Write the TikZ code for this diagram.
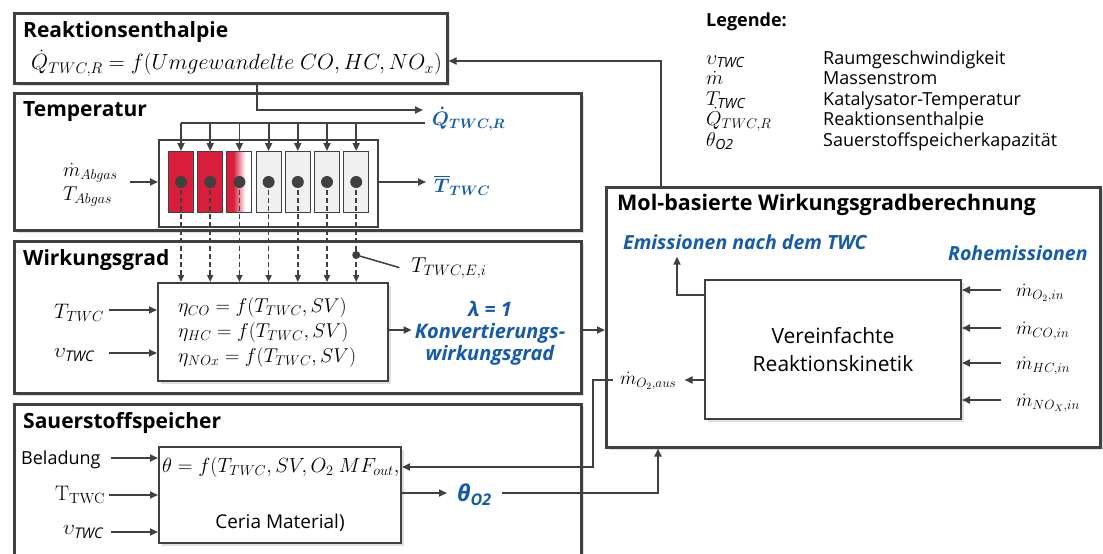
\RequirePackage{fix-cm}
\documentclass[tikz,border=0pt]{standalone}
\usepackage{amsmath}
\usepackage[no-math]{fontspec}
\setmainfont{Open Sans}
\usepackage{tikz}
\usetikzlibrary{arrows.meta, positioning, shadows, calc}

\definecolor{linegray}{RGB}{64,64,64}
\definecolor{kblue}{RGB}{22,90,170}
\definecolor{kred}{RGB}{217,30,60}
\definecolor{cellgray}{RGB}{240,240,240}
\pgfdeclarehorizontalshading{redfade}{100bp}{color(0bp)=(kred); color(25bp)=(kred); color(38bp)=(kred); color(62bp)=(white); color(100bp)=(white)}
\newcommand{\fsz}[2]{\fontsize{#1}{#2}\selectfont}

\begin{document}
\begin{tikzpicture}[x=1pt, y=-1pt,
    panel/.style={rectangle, draw=linegray, line width=2.5pt, fill=white, inner sep=0pt, anchor=north west,
        drop shadow={opacity=0.25, shadow xshift=2.5pt, shadow yshift=-2.5pt}},
    calcbox/.style={panel, line width=2pt},
    heading/.style={anchor=west, inner sep=0pt, font=\fsz{21}{24}\bfseries},
    bluetext/.style={inner sep=0pt, text=kblue, font=\fsz{19.5}{22}\bfseries\itshape},
    vartext/.style={anchor=west, inner sep=0pt, font=\fsz{19}{22}},
    flow/.style={draw=linegray, line width=1.8pt, -{Triangle[length=8pt, width=7pt]}},
    wire/.style={draw=linegray, line width=1.8pt},
    probe/.style={draw=linegray, line width=1.5pt, dash pattern=on 5pt off 3pt, -{Triangle[length=7pt, width=6pt]}},
    cell/.style={rectangle, draw=linegray, line width=1pt, minimum width=25pt, minimum height=61pt, inner sep=0pt, anchor=north},
    redcell/.style={fill=kred},
    fadecell/.style={shade, shading=redfade},
    graycell/.style={fill=cellgray},
    probedot/.style={circle, fill=linegray, minimum size=12pt, inner sep=0pt},
]

% Frame
\useasboundingbox (0,0) rectangle (1103,554);
\fill[white] (0,0) rectangle (1103,554);
\clip (0,0) rectangle (1103,554);

% Panels
\node[panel, minimum width=433pt, minimum height=70pt] (enthalpie) at (13,12) {};
\node[panel, minimum width=567pt, minimum height=137pt] (temperatur) at (13,92) {};
\node[panel, minimum width=567pt, minimum height=152pt] (wirkung) at (13,240) {};
\node[panel, minimum width=567pt, minimum height=170pt] (speicher) at (13,403) {};
\node[panel, minimum width=494pt, minimum height=260pt] (mol) at (605,186) {};

% Reaktionsenthalpie
\node[heading] (enthalpie title) at (23,32) {Reaktionsenthalpie};
\node[anchor=west, inner sep=0pt, font=\fsz{22}{24}] (enthalpie eq) at (31,63)
    {$\dot{Q}_{TWC,R} = f(Umgewandelte\ CO, HC, NO_x)$};

% Temperatur
\node[heading] (temperatur title) at (23,112) {Temperatur};
\node[rectangle, draw=linegray, line width=1.5pt, fill=white, minimum width=219pt, minimum height=87pt,
    inner sep=0pt, anchor=north west] (kat) at (158,139) {};
\foreach \i/\look in {1/redcell, 2/redcell, 3/fadecell, 4/graycell, 5/graycell, 6/graycell, 7/graycell} {
    \pgfmathsetmacro{\cx}{181+29.2*(\i-1)}
    \node[cell, \look] (cell\i) at (\cx,151) {};
    \node[probedot] (dot\i) at (\cx,182) {};
}
\node[bluetext, anchor=west] (qlabel) at (432,119) {{\boldmath$\dot{Q}_{TWC,R}$}};
\node[bluetext, anchor=west] (tlabel) at (434,185) {{\boldmath$\overline{T}_{TWC}$}};
\node[vartext, align=left, font=\fsz{20}{24}] (abgas) at (63,185) {$\dot{m}_{Abgas}$\\$T_{Abgas}$};

\draw[flow, shorten >=9pt] (enthalpie.south -| 257,0) |- (qlabel.west |- 0,110);
\draw[wire] (425,123) -- (cell1.north |- 0,123);
\foreach \i in {1,...,7}
    \draw[flow] (cell\i.north |- 0,123) -- (cell\i.north);
\draw[flow] (130,182) -- (kat.west |- 0,182);
\draw[flow, shorten >=8pt] (kat.east |- 0,182) -- (tlabel.west |- 0,182);

% Wirkungsgrad
\node[heading] (wirkung title) at (23,260) {Wirkungsgrad};
\node[calcbox, minimum width=230pt, minimum height=98pt] (eta) at (157,282) {};
\node[anchor=west, inner sep=0pt, font=\fsz{20}{22}] (eta co) at (178,307) {$\eta_{CO} = f(T_{TWC}, SV)$};
\node[anchor=west, inner sep=0pt, font=\fsz{20}{22}] (eta hc) at (178,332) {$\eta_{HC} = f(T_{TWC}, SV)$};
\node[anchor=west, inner sep=0pt, font=\fsz{20}{22}] (eta nox) at (178,357) {$\eta_{NOx} = f(T_{TWC}, SV)$};
\node[vartext, font=\fsz{21}{24}] (tin) at (54,313) {$T_{TWC}$};
\node[vartext, font=\fsz{21}{24}] (vin) at (54,355) {$\upsilon_{\textit{TWC}}$};
\node[bluetext, align=center, font=\fsz{20}{22}\bfseries\itshape] (kw) at (490,333)
    {λ = 1\\Konvertierungs-\\wirkungsgrad};
\node[probedot, minimum size=8pt] (tap) at (cell7.north |- 0,255) {};
\node[anchor=west, inner sep=0pt, font=\fsz{21.5}{24}] (tei) at (411,268) {$T_{TWC,E,i}$};

\foreach \i in {1,...,7}
    \draw[probe] (dot\i.center) -- (eta.north -| dot\i);
\draw[wire, line width=1.5pt, shorten >=12pt] (tap.center) -- (tei.west |- 0,271);
\draw[flow] (109,310) -- (eta.west |- 0,310);
\draw[flow] (109,353) -- (eta.west |- 0,353);
\draw[flow, shorten >=3pt] (eta.east |- 0,330) -- (kw.west |- 0,330);
\draw[flow] (wirkung.east |- 0,330) -- (mol.west |- 0,330);

% Sauerstoffspeicher
\node[heading] (speicher title) at (23,423) {Sauerstoffspeicher};
\node[calcbox, minimum width=242pt, minimum height=96pt] (theta) at (158,446) {};
\node[anchor=west, inner sep=0pt, font=\fsz{20.5}{22}] (theta eq) at (162,467) {$\theta = f(T_{TWC}, SV, O_2\ MF_{out},$};
\node[inner sep=0pt, font=\fsz{19}{22}] (ceria) at (280,523) {Ceria Material)};
\node[vartext, font=\fsz{18}{20}] (beladung) at (21,460) {Beladung};
\node[vartext, font=\fsz{21}{24}] (tin2) at (55,495) {$\mathrm{T}_{\mathrm{TWC}}$};
\node[vartext, font=\fsz{21}{24}] (vin2) at (63,532) {$\upsilon_{\textit{TWC}}$};
\node[bluetext, anchor=west, font=\fsz{23}{26}\bfseries\itshape] (o2) at (457,495) {θ\textsubscript{O2}};

\draw[flow] (111,458) -- (theta.west |- 0,458);
\draw[flow] (109,495) -- (theta.west |- 0,495);
\draw[flow] (111,532) -- (theta.west |- 0,532);
\draw[flow, shorten >=10pt] (theta.east |- 0,493) -- (o2.west |- 0,493);

% Mol-basierte Wirkungsgradberechnung
\node[heading, font=\fsz{21.5}{24}\bfseries] (mol title) at (617,205) {Mol-basierte Wirkungsgradberechnung};
\node[bluetext, anchor=west] (emis) at (623,242) {Emissionen nach dem TWC};
\node[bluetext, anchor=west] (roh) at (948,253) {Rohemissionen};
\node[calcbox, minimum width=256pt, minimum height=139pt, align=center, font=\fsz{21}{28}] (kinetik) at (704,279)
    {Vereinfachte\\Reaktionskinetik};
\node[vartext] (maus) at (620,381) {$\dot{m}_{O_2,aus}$};
\foreach \i/\y/\lab in {1/290/{O_2,in}, 2/328/{CO,in}, 3/363/{HC,in}, 4/400/{NO_X,in}} {
    \node[vartext] (min\i) at (1016,\y+3) {$\dot{m}_{\lab}$};
    \draw[flow, shorten <=15pt] (min\i.west |- 0,\y) -- (kinetik.east |- 0,\y);
}

\draw[flow, shorten >=7pt] (kinetik.west |- 0,295) -| (emis.south -| 677,0);
\draw[flow, shorten >=8pt] (kinetik.west |- 0,380) -- (maus.east |- 0,380);
\draw[flow, shorten <=7pt] (maus.west |- 0,380) -- (593,380) |- (theta.east |- 0,467);
\draw[flow, shorten <=10pt] (o2.east |- 0,493) -| (mol.south -| 658,0);
\draw[flow] (mol.north -| 661,0) |- (enthalpie.east |- 0,61);

% Legende
\node[anchor=west, inner sep=0pt, font=\fsz{18}{20}\bfseries] (legend) at (706,22) {Legende:};
\foreach \i/\sym/\txt in {1/{$\upsilon_{\textit{TWC}}$}/Raumgeschwindigkeit,
                          2/{$\dot{m}$}/Massenstrom,
                          3/{$T_{\textit{TWC}}$}/Katalysator-Temperatur,
                          4/{$\dot{Q}_{TWC,R}$}/Reaktionsenthalpie,
                          5/{$\theta_{\textit{O2}}$}/Sauerstoffspeicherkapazität} {
    \node[inner sep=0pt, anchor=base west, font=\fsz{20}{22}] (sym\i) at (706,64+20.5*\i-20.5) {\sym};
    \node[inner sep=0pt, anchor=base west, font=\fsz{18}{20}] (desc\i) at (823,64+20.5*\i-20.5) {\txt};
}

\end{tikzpicture}
\end{document}
